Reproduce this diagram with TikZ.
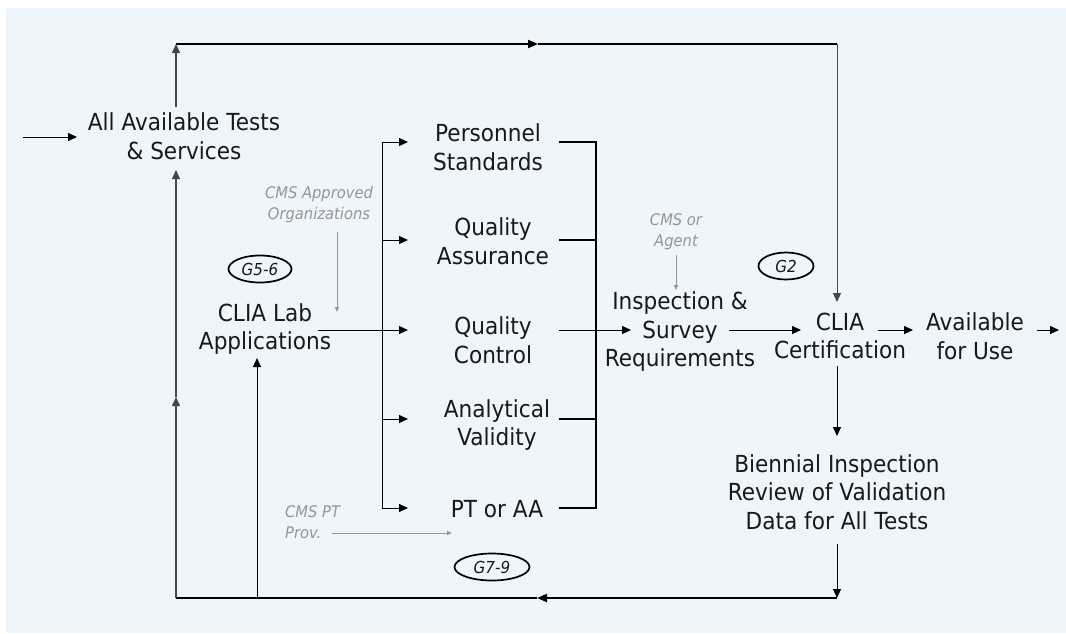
\documentclass[tikz,border=0pt]{standalone}
\usepackage{fontspec}
\setmainfont{DejaVu Sans}[FakeStretch=0.92]
\usetikzlibrary{arrows.meta,shapes.geometric}
\definecolor{bgc}{RGB}{238,245,251}
\definecolor{txt}{RGB}{25,25,25}
\definecolor{lbl}{RGB}{150,150,150}
\definecolor{dline}{RGB}{70,70,70}
\begin{document}
\begin{tikzpicture}[x=1pt,y=-1pt,
  main/.style={align=center,inner sep=0pt,text=txt,font=\fontsize{23.5}{28.5}\selectfont},
  note/.style={align=center,inner sep=0pt,text=lbl,font=\fontsize{16}{21}\selectfont\itshape},
  tag/.style={draw,ellipse,line width=1.7pt,inner sep=0pt,minimum height=27pt,text=txt,font=\fontsize{16.5}{18}\selectfont\itshape},
  arr/.style={line width=1pt,-{Triangle[length=9pt,width=8pt]}},
  garr/.style={draw=lbl,line width=0.9pt,-{Triangle[length=5pt,width=4pt]}},
  thk/.style={line width=2pt},
]
\fill[bgc] (6,8) rectangle (1066,633);
\useasboundingbox (0,0) rectangle (1066,633);

% text nodes
\node[main] (avail) at (184,136) {All Available Tests\\\& Services};
\node[main] (pers) at (488,147) {Personnel\\Standards};
\node[main] (qa) at (493,241) {Quality\\Assurance};
\node[main] (qc) at (493,340) {Quality\\Control};
\node[main] (av) at (497,425) {Analytical\\Validity};
\node[main] (pt) at (497,509) {PT or AA};
\node[main] (lab) at (265,329) {CLIA Lab\\Applications};
\node[main] (insp) at (680,332) {Inspection \&\\Survey\\Requirements};
\node[main] (cert) at (840,336) {CLIA\\Certification};
\node[main] (use) at (975,336) {Available\\for Use};
\node[main] (bien) at (837,492) {Biennial Inspection\\Review of Validation\\Data for All Tests};

% notes
\node[note] (cmsorg) at (319,205) {CMS Approved\\Organizations};
\node[note] (cmsag) at (676,232) {CMS or\\Agent};
\node[note,align=left,anchor=west] (cmspt) at (285,522) {CMS PT\\Prov.};

% tags
\node[tag,minimum width=63pt] (g56) at (260,269) {G5-6};
\node[tag,minimum width=55pt] (g2) at (786,266) {G2};
\node[tag,minimum width=75pt] (g79) at (492,567) {G7-9};

% coordinates
\coordinate (in) at (23,137);
\coordinate (inend) at (77,137);
\coordinate (availtop) at (176,107);
\coordinate (tl) at (176,44);
\coordinate (tm) at (538,44);
\coordinate (tr) at (837,44);
\coordinate (certtop) at (837,302);
\coordinate (inspout) at (729,330);
\coordinate (certin) at (801,330);
\coordinate (certout) at (878,330);
\coordinate (usein) at (913,330);
\coordinate (useout) at (1037,330);
\coordinate (out) at (1059,330);
\coordinate (certbot) at (837,366);
\coordinate (bientop) at (837,436);
\coordinate (bienbot) at (837,544);
\coordinate (br) at (837,598);
\coordinate (bm) at (537,598);
\coordinate (bl) at (176,598);
\coordinate (lm) at (176,397);
\coordinate (availbot) at (176,170);
\coordinate (labfoot) at (257,598);
\coordinate (labbot) at (257,358);
\coordinate (labout) at (318,330);
\coordinate (bx) at (382,330);
\coordinate (qcin) at (408,330);
\coordinate (btop) at (382,142);
\coordinate (bbot) at (382,508);
\coordinate (persin) at (408,142);
\coordinate (qain) at (408,240);
\coordinate (avin) at (408,419);
\coordinate (ptin) at (408,508);
\coordinate (s1) at (559,142);
\coordinate (s2) at (559,240);
\coordinate (s4) at (559,419);
\coordinate (s5) at (559,508);
\coordinate (bk1) at (596,142);
\coordinate (bk2) at (596,240);
\coordinate (bk4) at (596,419);
\coordinate (bk5) at (596,508);
\coordinate (qcout) at (559,330);
\coordinate (inspin) at (631,330);
\coordinate (o1) at (337,232);
\coordinate (o2) at (337,312);
\coordinate (a1) at (676,255);
\coordinate (a2) at (676,290);
\coordinate (p1) at (332,533);
\coordinate (p2) at (452,533);

% connectors
\draw[arr] (in) -- (inend);
\draw[arr,draw=dline,line width=1.4pt] (availtop) -- (tl);
\draw[thk,-{Triangle[length=10pt,width=8pt]}] (tl) -- (tm);
\draw[thk] (tm) -- (tr);
\draw[arr,draw=dline] (tr) -- (certtop);
\draw[arr] (inspout) -- (certin);
\draw[arr] (certout) -- (usein);
\draw[arr] (useout) -- (out);
\draw[arr] (certbot) -- (bientop);
\draw[arr] (bienbot) -- (br);
\draw[thk,-{Triangle[length=10pt,width=8pt]}] (br) -- (bm);
\draw[thk] (bm) -- (bl);
\draw[arr,draw=dline,line width=1.4pt] (bl) -- (lm);
\draw[arr,draw=dline,line width=1.4pt] (lm) -- (availbot);
\draw[arr] (labfoot) -- (labbot);
\draw[arr] (labout) -- (qcin);
\draw[line width=1pt] (btop) -- (bbot);
\draw[arr] (btop) -- (persin);
\draw[arr] (bx |- qain) -- (qain);
\draw[arr] (bx |- avin) -- (avin);
\draw[arr] (bbot) -- (ptin);
\draw[thk] (s1) -- (bk1) -- (bk5) -- (s5);
\draw[thk] (s2) -- (bk2);
\draw[thk] (s4) -- (bk4);
\draw[arr] (qcout) -- (inspin);
\draw[garr] (o1) -- (o2);
\draw[garr] (a1) -- (a2);
\draw[garr] (p1) -- (p2);
\end{tikzpicture}
\end{document}
